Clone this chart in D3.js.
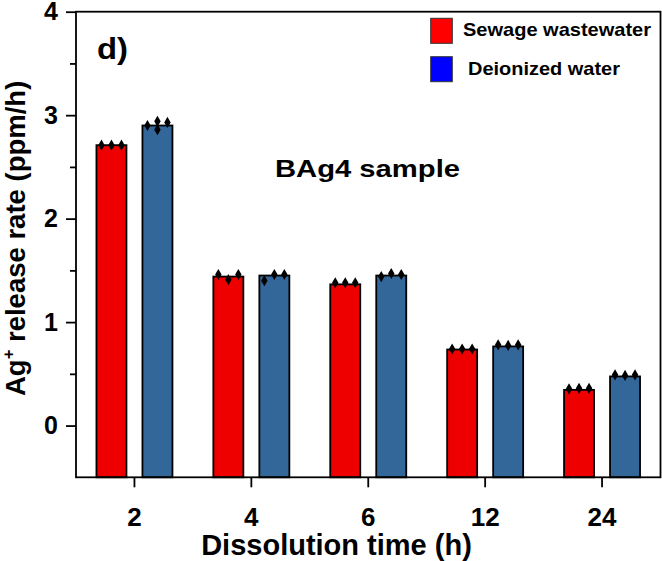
<!DOCTYPE html>
<html>
<head>
<meta charset="utf-8">
<script src="https://cdn.jsdelivr.net/npm/d3@7"></script>
<style>
  body { margin: 0; background: #fff; }
  svg { display: block; font-family: 'Liberation Sans', Arial, sans-serif; font-weight: bold; }
</style>
</head>
<body>
<svg id="chart" width="662" height="561"></svg>
<script>
// dissolution times (h)
const categories = ['2', '4', '6', '12', '24']
const seriesNames = ['Sewage wastewater', 'Deionized water']
// bar heights, ppm/h
const sewage = [2.71, 1.44, 1.365, 0.735, 0.345]
const deionized = [2.90, 1.45, 1.45, 0.765, 0.475]
// replicate points, three slots per bar (a slot can hold more than one)
const sewagePoints = [
  [[2.71], [2.71], [2.71]],
  [[1.46], [1.41], [1.46]],
  [[1.38], [1.38], [1.38]],
  [[0.74], [0.74], [0.74]],
  [[0.355], [0.36], [0.36]]
]
const deionizedPoints = [
  [[2.90], [2.94, 2.86], [2.93]],
  [[1.40], [1.46], [1.46]],
  [[1.44], [1.47], [1.46]],
  [[0.78], [0.775], [0.78]],
  [[0.49], [0.485], [0.49]]
]
const yTicks = [0, 1, 2, 3, 4]
const yMinorTicks = [0.5, 1.5, 2.5, 3.5]

const svg = d3.select('#chart')
const plotLeft = 76
const plotRight = 660.5
const plotTop = 11.7
const plotBottom = 477.3

const x = d3.scaleBand().domain(categories).range([plotLeft, plotRight]).padding(0)
const y = d3.scaleLinear().domain([-0.5, 4]).range([plotBottom, plotTop])

const barColors = ['#ee0000', '#336699']
const legendColors = ['#ff0000', '#0000ff']
const barW = 30
const barOffsets = [-38, 8] // from band centre

//
const series = [
  { name: seriesNames[0], values: sewage, points: sewagePoints },
  { name: seriesNames[1], values: deionized, points: deionizedPoints }
]

series.forEach((s, si) => {
  const bx = c => x(c) + x.bandwidth() / 2 + barOffsets[si]
  svg.append('g').selectAll('rect')
    .data(s.values)
    .join('rect')
    .attr('x', (d, i) => bx(categories[i]))
    .attr('y', d => y(d))
    .attr('width', barW)
    .attr('height', d => y(-0.5) - y(d))
    .attr('fill', barColors[si])
    .attr('stroke', '#000')
    .attr('stroke-width', 1.8)

  // replicate diamonds on top of bars
  const pts = []
  s.points.forEach((slots, i) => {
    slots.forEach((vals, k) => {
      vals.forEach(v => pts.push({ x: bx(categories[i]) + barW / 2 + (k - 1) * 10, v }))
    })
  })
  svg.append('g').selectAll('path')
    .data(pts)
    .join('path')
    .attr('transform', d => `translate(${d.x},${y(d.v)})`)
    .attr('d', d3.symbol(d3.symbolDiamond, 36))
    .attr('fill', '#000')
})

// frame
svg.append('rect')
  .attr('x', plotLeft).attr('y', plotTop)
  .attr('width', plotRight - plotLeft).attr('height', plotBottom - plotTop)
  .attr('fill', 'none')
  .attr('stroke', '#000')
  .attr('stroke-width', 1.8)

// y axis
const yAxis = svg.append('g').attr('transform', `translate(${plotLeft},0)`)
  .call(d3.axisLeft(y).tickValues(yTicks).tickSize(10).tickPadding(8).tickFormat(d3.format('d')))
yAxis.select('.domain').remove()
yAxis.selectAll('line').attr('stroke-width', 1.8)
yAxis.selectAll('text').attr('font-size', 25).attr('font-family', null).attr('fill', '#000')
const yMinor = svg.append('g').attr('transform', `translate(${plotLeft},0)`)
  .call(d3.axisLeft(y).tickValues(yMinorTicks).tickSize(6).tickFormat(''))
yMinor.select('.domain').remove()
yMinor.selectAll('line').attr('stroke-width', 1.8)

// x axis
const xAxis = svg.append('g').attr('transform', `translate(0,${plotBottom})`)
  .call(d3.axisBottom(x).tickSize(10).tickPadding(20))
xAxis.select('.domain').remove()
xAxis.selectAll('line').attr('stroke-width', 1.8)
xAxis.selectAll('text').attr('font-size', 26).attr('font-family', null).attr('fill', '#000')

// axis titles
svg.append('text')
  .attr('x', 336.5).attr('y', 555)
  .attr('text-anchor', 'middle')
  .attr('font-size', 29)
  .text('Dissolution time (h)')

// y title, start-anchored at its lower end
const yTitle = svg.append('text')
  .attr('transform', 'translate(25,396) rotate(-90)')
  .attr('font-size', 27.5)
yTitle.append('tspan').text('Ag')
yTitle.append('tspan').attr('font-size', 16.5).attr('dy', -11).text('+')
yTitle.append('tspan').attr('dy', 11).text(' release rate (ppm/h)')

// panel letter and sample label
svg.append('text')
  .attr('x', 97).attr('y', 59)
  .attr('font-size', 30)
  .attr('textLength', 31).attr('lengthAdjust', 'spacingAndGlyphs')
  .text('d)')
svg.append('text')
  .attr('x', 275).attr('y', 177)
  .attr('font-size', 24)
  .attr('textLength', 185).attr('lengthAdjust', 'spacingAndGlyphs')
  .text('BAg4 sample')

// legend
const legend = svg.append('g')
const legendY = [18.3, 56.7]
const legendTextX = [463, 468]
const legendTextW = [188, 152]
series.forEach((s, si) => {
  legend.append('rect')
    .attr('x', 430.7).attr('y', legendY[si])
    .attr('width', 21.6).attr('height', 25)
    .attr('fill', legendColors[si])
    .attr('stroke', '#333')
    .attr('stroke-width', 1)
  legend.append('text')
    .attr('x', legendTextX[si]).attr('y', legendY[si] + 18)
    .attr('font-size', 18.5)
    .attr('textLength', legendTextW[si]).attr('lengthAdjust', 'spacingAndGlyphs')
    .text(s.name)
})
</script>
</body>
</html>
